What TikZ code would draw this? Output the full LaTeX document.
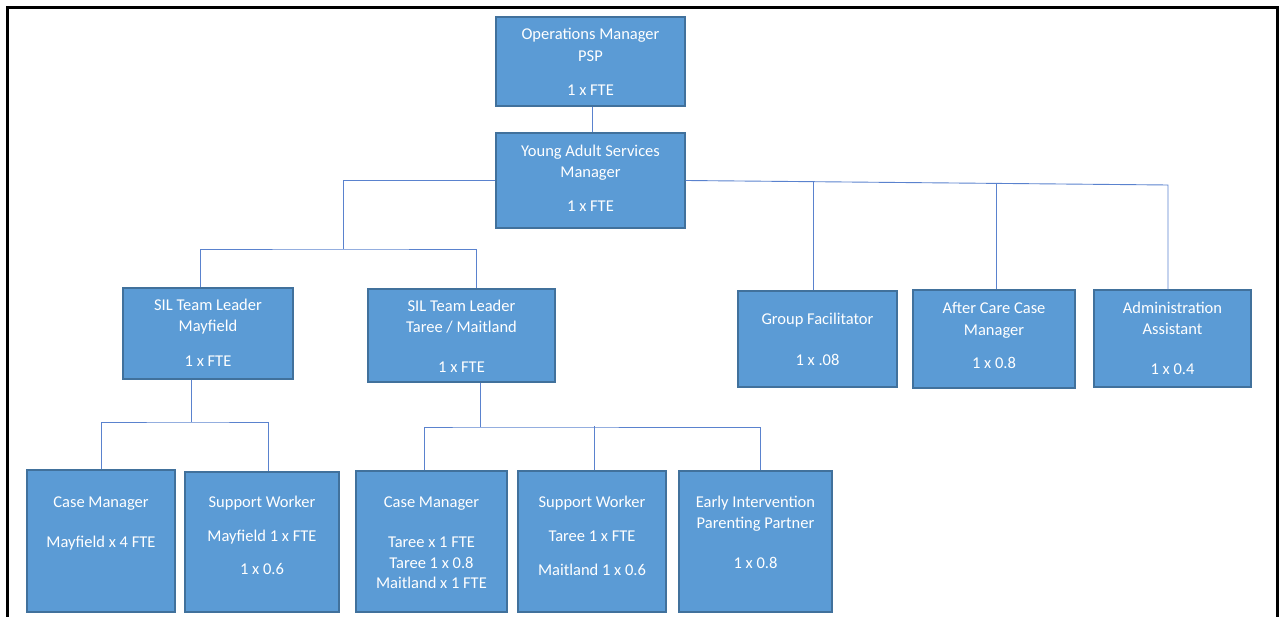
\documentclass[tikz,border=0pt]{standalone}
\usepackage{fontspec}
\setmainfont{Carlito}
\definecolor{boxfill}{HTML}{5B9BD5}
\definecolor{boxline}{HTML}{41719C}
\definecolor{conn}{HTML}{5A82CE}
\begin{document}
\begin{tikzpicture}[x=1pt,y=-1pt,
  box/.style={draw=boxline, line width=1.4pt, fill=boxfill, inner sep=0pt, rectangle},
  txt/.style={font=\fontsize{16.5}{21}\selectfont, text=white, align=center, inner sep=0pt, anchor=north},
  link/.style={draw=conn, line width=0.9pt}]
\useasboundingbox (0,0) rectangle (1281,617);
% frame
\draw[line width=3pt, line join=miter] (7,640) -- (7,8) -- (1277,8) -- (1277,640);

% boxes
\node[box, minimum width=189, minimum height=89] (ops) at (590.5,61.5) {};
\node[box, minimum width=189, minimum height=95] (yas) at (590.5,180.5) {};
\node[box, minimum width=170, minimum height=91] (silm) at (208,333.5) {};
\node[box, minimum width=187, minimum height=93] (silt) at (461.5,335.5) {};
\node[box, minimum width=159, minimum height=96] (gf) at (817.5,339) {};
\node[box, minimum width=162, minimum height=98] (ac) at (994,339) {};
\node[box, minimum width=157, minimum height=97] (adm) at (1172.5,338.5) {};
\node[box, minimum width=148, minimum height=142] (cmm) at (101,541) {};
\node[box, minimum width=154, minimum height=140] (swm) at (262,542) {};
\node[box, minimum width=151, minimum height=141] (cmt) at (431.5,541.5) {};
\node[box, minimum width=148, minimum height=141] (swt) at (592,541.5) {};
\node[box, minimum width=153, minimum height=141] (ei) at (755.5,541.5) {};

% texts
\node[txt] (ops-t) at (590.5,39-14.7) {\strut Operations Manager\\[1pt] PSP\\[13pt] 1 x FTE};
\node[txt] (yas-t) at (590.5,156-14.7) {\strut Young Adult Services\\ Manager\\[13pt] 1 x FTE};
\node[txt] (silm-t) at (208,310-14.7) {\strut SIL Team Leader\\ Mayfield\\[14pt] 1 x FTE};
\node[txt] (silt-t) at (461.5,311-14.7) {\strut SIL Team Leader\\ Taree / Maitland\\[19pt] 1 x FTE};
\node[txt] (gf-t) at (817.5,324-14.7) {\strut Group Facilitator\\[20pt] 1 x .08};
\node[txt] (ac-t) at (994,313-14.7) {\strut After Care Case\\[1pt] Manager\\[12pt] 1 x 0.8};
\node[txt] (adm-t) at (1172.5,313-14.7) {\strut Administration\\ Assistant\\[19pt] 1 x 0.4};
\node[txt] (cmm-t) at (101,507-14.7) {\strut Case Manager\\[19pt] Mayfield x 4 FTE};
\node[txt] (swm-t) at (262,507-14.7) {\strut Support Worker\\[13pt] Mayfield 1 x FTE\\[12pt] 1 x 0.6};
\node[txt] (cmt-t) at (431.5,507-14.7) {\strut Case Manager\\[19pt] Taree x 1 FTE\\ Taree 1 x 0.8\\[-1pt] Maitland x 1 FTE};
\node[txt] (swt-t) at (592,507-14.7) {\strut Support Worker\\[13pt] Taree 1 x FTE\\[13pt] Maitland 1 x 0.6};
\node[txt] (ei-t) at (755.5,507-14.7) {\strut Early Intervention\\ Parenting Partner\\[19pt] 1 x 0.8};

% connectors
\coordinate (jL) at (343,249);
\coordinate (jR) at (1168,185);
\coordinate (jM) at (191,422);
\coordinate (jT) at (480,427);

\draw[link] ([xshift=1.5]ops.south) -- ([xshift=1.5]yas.north);
\draw[link] (yas.west) -| (jL);
\draw[link] ([xshift=-8]silm.north) |- (jL) -| ([xshift=14.5]silt.north);
\draw[link] (yas.east) -- (jR) -- ([xshift=-4.5]adm.north);
\draw[link] ([xshift=-4.5]gf.north) -- ++(0,-109);
\draw[link] ([xshift=2]ac.north) -- ++(0,-106);
\draw[link] ([xshift=-17]silm.south) -- (jM);
\draw[link] (cmm.north) |- (jM) -| ([xshift=6]swm.north);
\draw[link] ([xshift=18.5]silt.south) -- (jT);
\draw[link] ([xshift=-7.5]cmt.north) |- (jT) -| ([xshift=4.5]ei.north);
\draw[link] ([xshift=2]swt.north) -- ++(0,-44);
\end{tikzpicture}
\end{document}
